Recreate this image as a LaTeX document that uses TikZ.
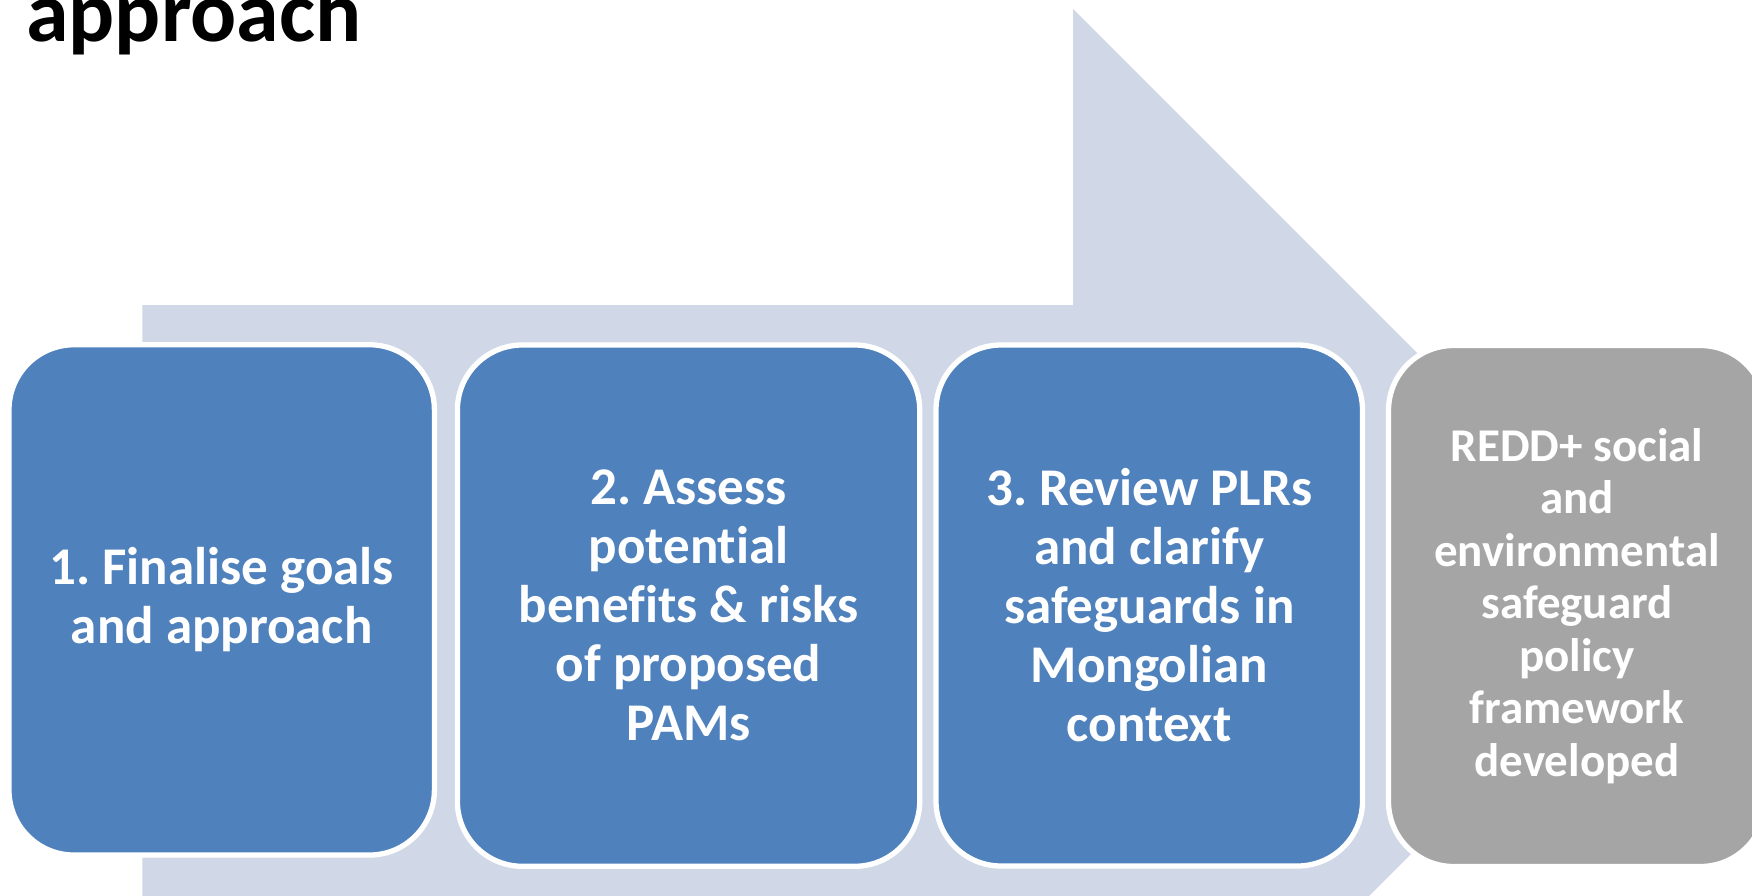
\documentclass[tikz,border=0pt]{standalone}
\usepackage{fontspec}
\setmainfont{Carlito}[Ligatures=NoCommon]
\frenchspacing
\definecolor{bandc}{HTML}{D0D8E8}
\definecolor{boxblue}{HTML}{4F81BD}
\definecolor{boxgray}{HTML}{A5A5A5}
\begin{document}
\begin{tikzpicture}[x=1pt,y=-1pt,
  stepbox/.style={rectangle, rounded corners=65pt, draw=white, line width=5.3pt,
    inner sep=0pt, align=center, text=white,
    font=\bfseries\fontsize{53}{59}\selectfont},
  bluebox/.style={stepbox, fill=boxblue},
  graybox/.style={stepbox, fill=boxgray, font=\bfseries\fontsize{47}{52.5}\selectfont},
  titletext/.style={anchor=base west, inner sep=0pt, font=\bfseries\fontsize{86}{100}\selectfont}
]
\useasboundingbox (0,0) rectangle (1752,896);
\clip (0,0) rectangle (1752,896);
% background process arrow
\fill[bandc] (142.3,305) -- (1073,305) -- (1073,9) -- (1664.5,600.5)
  -- (1073,1192) -- (1073,896) -- (142.3,896) -- cycle;
% title (partly cut off)
\node[titletext] (title) at (26,41.7) {approach};
% steps
\node[bluebox, minimum width=425.4pt, minimum height=510.3pt] (s1) at (221.7,599.9)
  {1. Finalise goals\\and approach};
\node[bluebox, minimum width=462.3pt, minimum height=521.3pt] (s2) at (688.55,605.65)
  {2. Assess\\potential\\benefits \& risks\\of proposed\\PAMs};
\node[bluebox, minimum width=426.5pt, minimum height=521pt] (s3) at (1149.25,605.5)
  {3. Review PLRs\\and clarify\\safeguards in\\Mongolian\\context};
\node[graybox, minimum width=377pt, minimum height=521pt] (s4) at (1577,606)
  {REDD+ social\\and\\environmental\\safeguard\\policy\\framework\\developed};
\end{tikzpicture}
\end{document}
